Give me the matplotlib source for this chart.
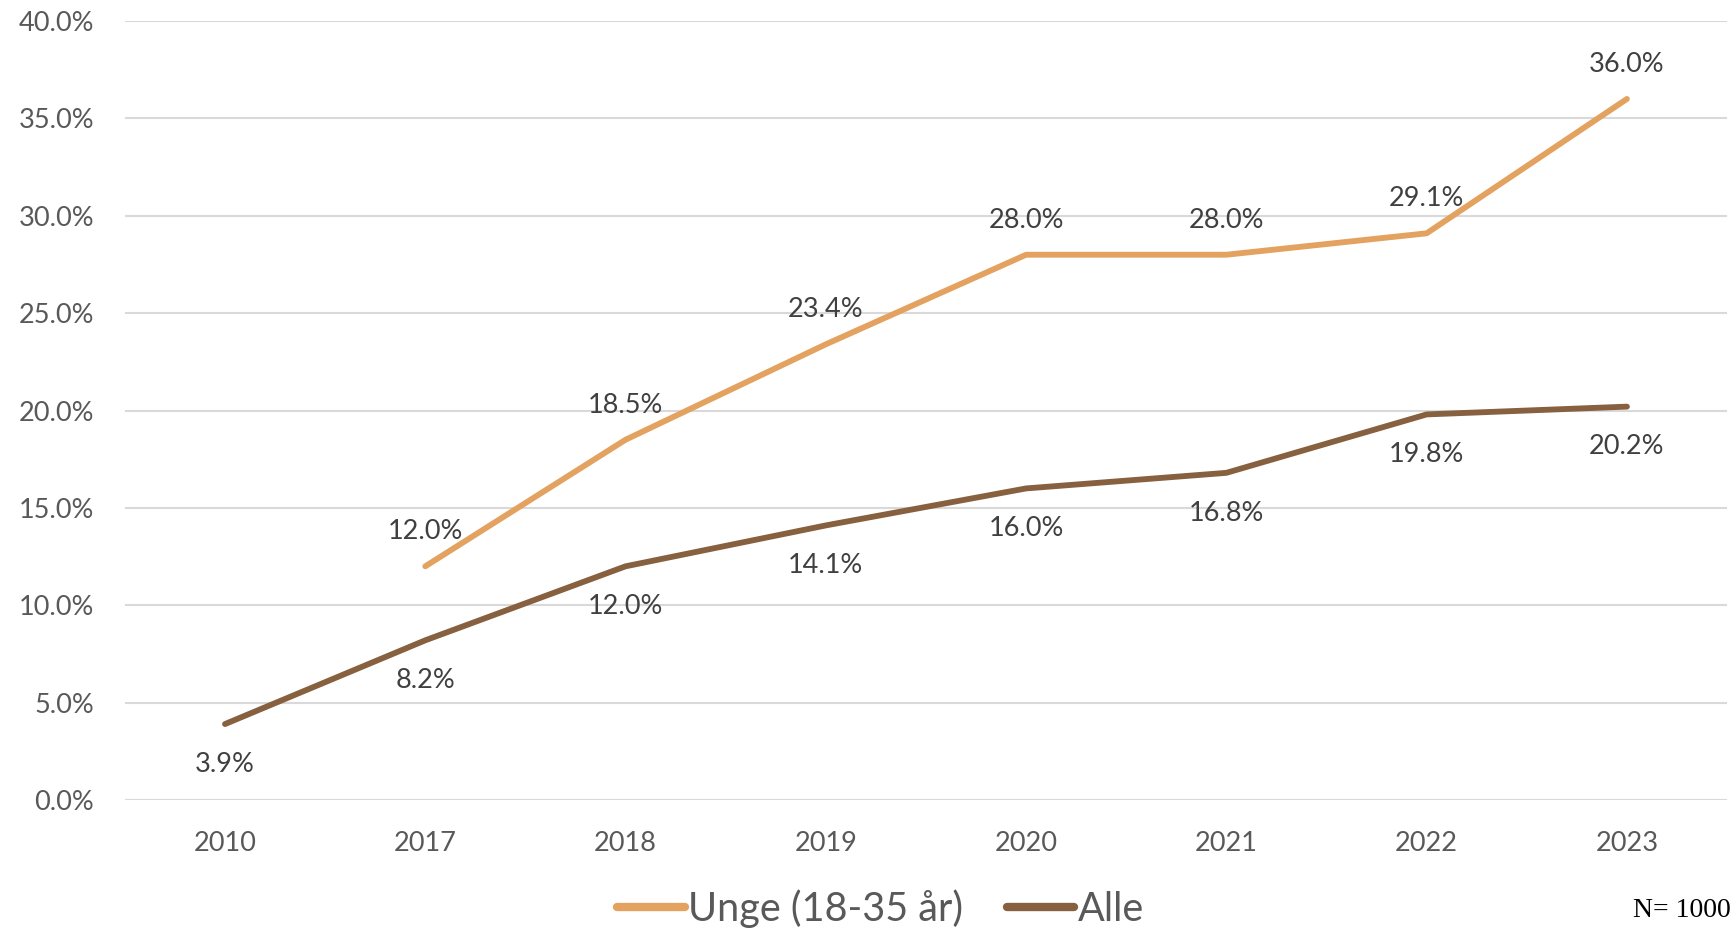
import numpy as np
import matplotlib.pyplot as plt
from matplotlib.ticker import PercentFormatter

# data
years = ['2010', '2017', '2018', '2019', '2020', '2021', '2022', '2023']
unge = [np.nan, 12.0, 18.5, 23.4, 28.0, 28.0, 29.1, 36.0]
alle = [3.9, 8.2, 12.0, 14.1, 16.0, 16.8, 19.8, 20.2]

c_unge = '#E3A25F'
c_alle = '#86603F'

plt.rcParams['font.family'] = ['Lato', 'DejaVu Sans']

fig = plt.figure(figsize=(17.34, 9.31), dpi=100)
ax = fig.add_axes([0.072, 0.1407, 0.924, 0.8367])

x = np.arange(len(years))
ax.plot(x, unge, color=c_unge, lw=4.2, solid_capstyle='round', label='Unge (18-35 år)')
ax.plot(x, alle, color=c_alle, lw=4.2, solid_capstyle='round', label='Alle')

# data labels
for i, v in enumerate(unge):
    if np.isnan(v):
        continue
    ax.annotate(f'{v:.1f}%', (i, v), xytext=(0, 25), textcoords='offset points',
                ha='center', va='center', fontsize=19.5, color='#404040')
for i, v in enumerate(alle):
    ax.annotate(f'{v:.1f}%', (i, v), xytext=(0, -29), textcoords='offset points',
                ha='center', va='center', fontsize=19.5, color='#404040')

ax.set_xlim(-0.5, len(years) - 0.5)
ax.set_ylim(0, 40)
ax.set_yticks(np.arange(0, 41, 5))
ax.yaxis.set_major_formatter(PercentFormatter(decimals=1))
ax.set_xticks(x)
ax.set_xticklabels(years)
ax.tick_params(axis='both', length=0, labelsize=19.5, labelcolor='#595959')
ax.tick_params(axis='x', pad=22)
ax.tick_params(axis='y', pad=22)
ax.grid(axis='y', color='#D9D9D9', lw=1.5)
ax.set_axisbelow(True)
for s in ax.spines.values():
    s.set_visible(False)

leg = fig.legend(loc='center', bbox_to_anchor=(0.508, 0.024), ncol=2, frameon=False,
                 fontsize=28.5, handlelength=1.7, handletextpad=0.1, columnspacing=1.1,
                 labelcolor='#595959')
for h in leg.get_lines():
    h.set_linewidth(6)
    h.set_solid_capstyle('round')

fig.text(0.998, 0.022, 'N= 1000', ha='right', va='center', fontsize=20,
         family=['Liberation Serif', 'DejaVu Serif'], color='black')

fig.savefig('out.png', dpi=100)
